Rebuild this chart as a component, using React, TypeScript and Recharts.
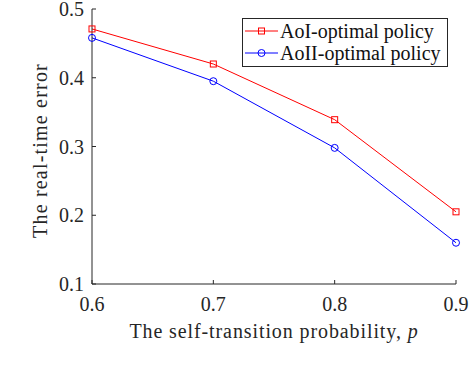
import React from 'react';
import { LineChart, Line, XAxis, YAxis, Legend } from 'recharts';

// self-transition probability p
const pValues = [0.6, 0.7, 0.8, 0.9];
// real-time error per policy
const aoiOptimal = [0.471, 0.42, 0.339, 0.205];
const aoiiOptimal = [0.458, 0.395, 0.298, 0.16];

const xTicks = [0.6, 0.7, 0.8, 0.9];
const yTicks = [0.1, 0.2, 0.3, 0.4, 0.5];

const data = pValues.map((p, i) => ({ p, aoi: aoiOptimal[i], aoii: aoiiOptimal[i] }));

const FONT = 'Liberation Serif';
const AXIS = '#262626';
const RED = '#ff0000';
const BLUE = '#0000ff';
const TICK_LEN = 4;

const LeftTick = ({ x, y, payload }: any) => (
  <g>
    <line x1={x + 8} x2={x + 8 + TICK_LEN} y1={y} y2={y} stroke={AXIS} strokeWidth={1} />
    <text x={x} y={y} dy="0.35em" textAnchor="end" fill={AXIS} fontSize={20} fontFamily={FONT}>
      {payload.value.toFixed(1)}
    </text>
  </g>
);

const BottomTick = ({ x, y, payload }: any) => (
  <g>
    <line x1={x} x2={x} y1={y - 13} y2={y - 13 - TICK_LEN} stroke={AXIS} strokeWidth={1} />
    <text x={x} y={y} dy="0.71em" textAnchor="middle" fill={AXIS} fontSize={20} fontFamily={FONT}>
      {payload.value.toFixed(1)}
    </text>
  </g>
);

// mirrored box ticks, pointing into the plot
const TopTick = ({ x, y }: any) => (
  <line x1={x} x2={x} y1={y} y2={y + TICK_LEN} stroke={AXIS} strokeWidth={1} />
);
const RightTick = ({ x, y }: any) => (
  <line x1={x} x2={x - TICK_LEN} y1={y} y2={y} stroke={AXIS} strokeWidth={1} />
);

const SquareDot = ({ cx, cy }: any) => (
  <rect x={cx - 3} y={cy - 3} width={6} height={6} fill="none" stroke={RED} strokeWidth={1} />
);

const LegendBox = () => (
  <svg width={206} height={49} style={{ display: 'block' }}>
    <rect x={0.5} y={0.5} width={205} height={48} fill="#fff" stroke={AXIS} strokeWidth={1} />
    <line x1={3} x2={36} y1={13} y2={13} stroke={RED} strokeWidth={1} />
    <rect x={16.5} y={10} width={6} height={6} fill="none" stroke={RED} strokeWidth={1} />
    <text x={38} y={13} dy="0.35em" fontSize={20} fontFamily={FONT} fill="#111">AoI-optimal policy</text>
    <line x1={3} x2={36} y1={35} y2={35} stroke={BLUE} strokeWidth={1} />
    <circle cx={19.5} cy={35} r={3.5} fill="none" stroke={BLUE} strokeWidth={1} />
    <text x={38} y={35} dy="0.35em" fontSize={20} fontFamily={FONT} fill="#111">AoII-optimal policy</text>
  </svg>
);

export default function App() {
  return (
    <div style={{ position: 'absolute', left: 0, top: 0, width: 470, height: 378, background: '#fff' }}>
      <LineChart width={470} height={378} data={data} margin={{ top: 9, right: 14, left: 0, bottom: 0 }}>
        <XAxis
          dataKey="p"
          type="number"
          domain={[0.6, 0.9]}
          ticks={xTicks}
          height={94}
          tickSize={0}
          tickMargin={13}
          stroke={AXIS}
          tick={<BottomTick />}
          label={{
            content: ({ viewBox }: any) => (
              <text
                x={viewBox.x + viewBox.width / 2}
                y={viewBox.y + 54}
                textAnchor="middle"
                fontSize={20}
                fontFamily={FONT}
                letterSpacing={0.9}
                fill={AXIS}
              >
                The self-transition probability, <tspan fontStyle="italic">p</tspan>
              </text>
            ),
          }}
        />
        <XAxis
          xAxisId="top"
          orientation="top"
          type="number"
          domain={[0.6, 0.9]}
          ticks={xTicks}
          height={0}
          tickSize={0}
          tickMargin={0}
          stroke={AXIS}
          tick={<TopTick />}
        />
        <YAxis
          type="number"
          domain={[0.1, 0.5]}
          ticks={yTicks}
          width={92}
          tickSize={0}
          tickMargin={8}
          stroke={AXIS}
          tick={<LeftTick />}
          label={{
            content: ({ viewBox }: any) => {
              const cx = 47;
              const cy = viewBox.y + viewBox.height / 2 + 4;
              return (
                <text
                  x={cx}
                  y={cy}
                  transform={`rotate(-90, ${cx}, ${cy})`}
                  textAnchor="middle"
                  fontSize={20}
                  fontFamily={FONT}
                  letterSpacing={1.2}
                  fill={AXIS}
                >
                  The real-time error
                </text>
              );
            },
          }}
        />
        <YAxis
          yAxisId="right"
          orientation="right"
          type="number"
          domain={[0.1, 0.5]}
          ticks={yTicks}
          width={0}
          tickSize={0}
          tickMargin={0}
          stroke={AXIS}
          tick={<RightTick />}
        />
        <Legend
          layout="vertical"
          align="center"
          verticalAlign="middle"
          content={() => <LegendBox />}
          wrapperStyle={{ top: 18, left: 242, width: 206, height: 49 }}
        />
        <Line
          dataKey="aoi"
          stroke={RED}
          strokeWidth={1}
          dot={<SquareDot />}
          activeDot={false}
          isAnimationActive={false}
        />
        <Line
          dataKey="aoii"
          stroke={BLUE}
          strokeWidth={1}
          dot={{ r: 3.5, fill: 'none', stroke: BLUE, strokeWidth: 1 }}
          activeDot={false}
          isAnimationActive={false}
        />
      </LineChart>
    </div>
  );
}
